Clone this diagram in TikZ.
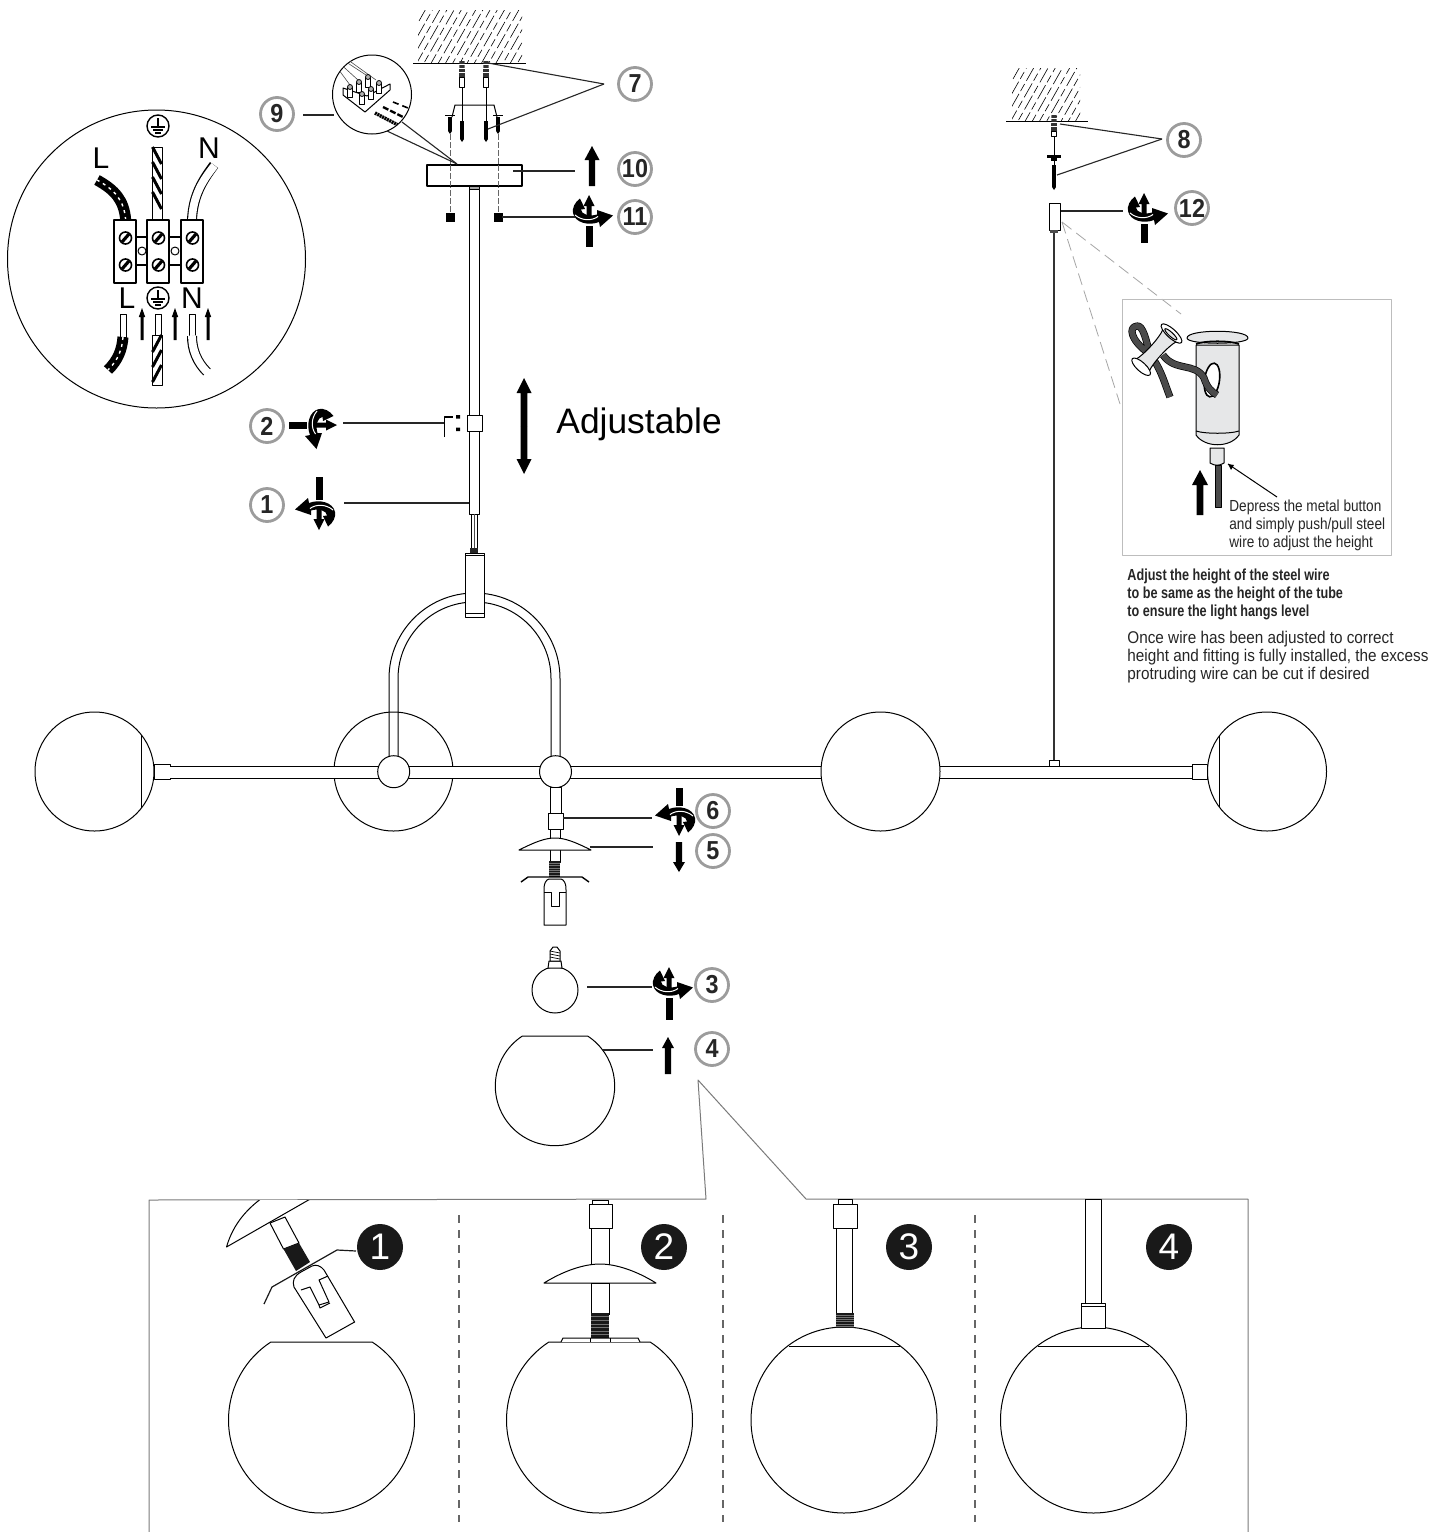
\documentclass[tikz,border=0pt]{standalone}
\usepackage{fontspec}
\setmainfont{Liberation Sans}
\newfontfamily\narrowf[FakeStretch=0.85]{Liberation Sans}
\newfontfamily\narrowg[FakeStretch=0.90]{Liberation Sans}
\newfontfamily\narrowb[FakeStretch=0.79]{Liberation Sans Bold}
\newfontfamily\numf[FakeStretch=0.9]{Liberation Sans Bold}
\usetikzlibrary{calc}
\definecolor{ringgrey}{HTML}{9C9C9C}
\definecolor{panelgrey}{HTML}{7A7A7A}
\definecolor{boxgrey}{HTML}{BDBDBD}
\definecolor{metal}{HTML}{E6E7E8}
\definecolor{wiredark}{HTML}{4A4A4A}
\tikzset{
  ln/.style={line width=0.5pt,black},
  leader/.style={line width=0.55pt,black!85},
  numring/.style={circle,draw=ringgrey,line width=1.4pt,fill=white,minimum size=16.5pt,inner sep=0pt,font=\numf\fontsize{13}{13}\selectfont,text=black!85},
  blackdot/.style={circle,fill=black!90,minimum size=23pt,inner sep=0pt,text=white,font=\fontsize{18.5}{18.5}\selectfont},
  bigl/.style={inner sep=0pt,font=\fontsize{15}{15}\selectfont},
  dashgrey/.style={line width=1pt,draw=black!60,dash pattern=on 4pt off 3.5pt},
  screwdash/.style={line width=0.4pt,draw=black!60,dash pattern=on 3pt off 1pt},
  pale/.style={line width=0.4pt,draw=black!35,dash pattern=on 6pt off 3pt},
  panel/.style={line width=0.5pt,draw=panelgrey},
  note/.style={anchor=north west,inner sep=0pt,align=left,text=black!85}
}
\newcommand\ldr[3]{\coordinate (#1a) at (#2);\coordinate (#1b) at (#3);\draw[leader] (#1a) -- (#1b);}
% vertical block arrow: x, tail y, tip y, half shaft, half head, head length
\newcommand\varrow[6]{\pgfmathsetmacro\sg{(#3>#2)?1:-1}%
  \fill[black] ({#1-#4},#2) -- ({#1-#4},{#3-\sg*#6}) -- ({#1-#5},{#3-\sg*#6}) -- (#1,#3) -- ({#1+#5},{#3-\sg*#6}) -- ({#1+#4},{#3-\sg*#6}) -- ({#1+#4},#2) -- cycle;}
% twist icon: x, y, rotation, shaft end
\newcommand\twist[4]{\begin{scope}[shift={(#1,#2)},rotate=#3]
  \fill[black] (-3.5,10.5) rectangle (3.5,#4);
  \fill[black] (-2.5,1) -- (-2.5,-9) -- (-5.5,-9) -- (0,-20) -- (5.5,-9) -- (2.5,-9) -- (2.5,1) -- cycle;
  \fill[black] (-9,-16.5) -- (-4,-6) -- (-8,-5.5) .. controls (-8,-1) and (0,2) .. (8,-0.5) -- (8,-5) -- (24,0.5) -- (11,12) -- (10,7) .. controls (0,11) and (-14,8) .. (-16,-2) .. controls (-17,-7) and (-14,-13) .. (-9,-16.5) -- cycle;
  \draw[white,line width=0.5pt] (-14,0) .. controls (-7,6) and (3,6) .. (9,1.5);
\end{scope}}
\newcommand\hatchfield[4]{\begin{scope}
  \clip (#1,#2) rectangle (#3,#4);
  \foreach \i in {0,...,22}{
    \pgfmathsetmacro\hx{#1-30+\i*7.2}
    \pgfmathsetmacro\ph{mod(\i*7,13)}
    \draw[line width=0.3pt,black,dash pattern=on 8pt off 1.6pt on 4pt off 2pt,dash phase=\ph pt] (\hx,#4) -- ++(34,-60);
  }
\end{scope}}
\newcommand\thread[4]{\fill[black!90] (#1,#2) rectangle (#3,#4);
  \foreach \yy in {1,...,6}{\pgfmathsetmacro\ty{#2+(#4-#2)*\yy/7}\draw[black!55,line width=0.2pt] (#1,\ty) -- (#3,\ty);}}
\newcommand\cutball[4]{\pgfmathsetmacro\ang{asin(#4/#3)}\pgfmathsetmacro\hh{#3*cos(\ang)}%
  \draw[ln,fill=white] ({#1+\hh},{#2-#4}) arc[start angle=-\ang,end angle=180+\ang,radius=#3] -- cycle;}
\newcommand\anchorplug[3]{\fill[black!80] ({#1-2.5},#2) -- ({#1+2.5},#2) -- ({#1+3},{#2+16}) -- ({#1-3},{#2+16}) -- cycle;
  \foreach \yy in {3,7,11}{\draw[white,line width=0.25pt] ({#1-3},{#2+\yy}) -- ({#1+3},{#2+\yy});}
  \draw[ln,fill=white] ({#1-2.5},{#2+16}) rectangle ({#1+2.5},#3);}
\newcommand\screwv[3]{\fill[black] ({#1-1.6},#2) rectangle ({#1+1.6},{#3-3});\fill[black] ({#1-2},{#3-3}) -- ({#1+2},{#3-3}) -- (#1,#3) -- cycle;}
\begin{document}
\begin{tikzpicture}[x=0.5pt,y=-0.5pt,line join=round]
\useasboundingbox (0,0) rectangle (1432,1532);
\fill[white] (0,0) rectangle (1432,1532);

%%% wiring circle
\draw[ln] (156.5,259) circle[radius=149];
% upper wires
\draw[black,line width=5.5pt] (125.7,220) .. controls (124,200) and (115,190) .. (97,180);
\draw[white,line width=0.7pt,dash pattern=on 1.5pt off 2pt] (125.7,220) .. controls (124,200) and (115,190) .. (97,180);
\draw[ln,fill=white] (152,147) rectangle (162,220);
\foreach \yy in {147,162,...,205}{\draw[black,line width=1.5pt] (152.5,\yy) -- (161.5,{\yy+17});}
\draw[black,line width=5pt] (192,220) .. controls (193,195) and (203,180) .. (214,165);
\draw[white,line width=3.9pt] (192,220) .. controls (193,195) and (203,180) .. (214.5,165.5);
% terminal block
\foreach \a/\b in {136/147,169/181}{\draw[ln,line width=0.7pt] (\a,237) -- (\b,237) (\a,265) -- (\b,265);}
\foreach \cx/\nm in {142/a,175/b}{\draw[ln,fill=white] (\cx,251) circle[radius=4];}
\foreach \xa in {114,147,181}{\draw[ln,line width=0.8pt,fill=white] (\xa,220) rectangle ({\xa+22},283);
  \foreach \yy in {238,265}{\draw[black,line width=0.8pt,fill=white] ({\xa+11.5},\yy) circle[radius=6];\draw[black,line width=1.6pt] ({\xa+8},{\yy+4}) -- ({\xa+15},{\yy-4});}}
% earth symbols
\foreach \cy in {126,298}{\draw[ln,line width=0.7pt] (158,\cy) circle[radius=11];
  \draw[black,line width=0.6pt] (158,{\cy-8}) -- (158,{\cy+1}) (151,{\cy+1}) -- (165,{\cy+1}) (153,{\cy+4}) -- (163,{\cy+4}) (155,{\cy+7}) -- (161,{\cy+7});}
\node[bigl] (wL1) at (101,158) {L};
\node[bigl] (wN1) at (209,148) {N};
\node[bigl] (wL2) at (127,298) {L};
\node[bigl] (wN2) at (192,298) {N};
% lower wires
\draw[ln,fill=white] (120,314) rectangle (126,337);
\draw[black,line width=5.5pt] (123,337) .. controls (122,350) and (118,360) .. (108,370);
\draw[white,line width=0.7pt,dash pattern=on 1.5pt off 2pt] (123,337) .. controls (122,350) and (118,360) .. (108,370);
\draw[ln,fill=white] (155,314) rectangle (161,335);
\draw[ln,fill=white] (152,335) rectangle (162,385);
\foreach \yy in {335,350,365}{\draw[black,line width=1.5pt] (161.5,\yy) -- (152.5,{\yy+17});}
\draw[ln,fill=white] (189,314) rectangle (195,336);
\draw[black,line width=5pt] (192,336) .. controls (192,350) and (197,362) .. (207,372);
\draw[white,line width=3.9pt] (192,335.5) .. controls (192,350) and (197,362) .. (207.5,372.5);
\varrow{142}{340}{308}{1.5}{3.2}{9}
\varrow{175}{340}{308}{1.5}{3.2}{9}
\varrow{208}{340}{308}{1.5}{3.2}{9}

%%% ceiling 1
\hatchfield{418}{10}{522}{63}
\draw[ln] (413,63) -- (526,63);
\anchorplug{462}{61}{87}
\anchorplug{486}{61}{87}
\draw[ln,line width=0.35pt] (462,87) -- (462,121) (486,87) -- (486,121);
\draw[ln] (452,117) -- (455,105) -- (494,105) -- (497,117);
\screwv{462}{121}{142}
\screwv{486}{121}{142}
\screwv{450}{117}{134}
\screwv{498}{117}{134}
\draw[black,line width=0.9pt] (445,115.5) -- (455,115.5) (493,115.5) -- (503,115.5);
\draw[screwdash] (450,134) -- (450,213) (498,134) -- (498,213);
\fill[black] (445.5,212.5) rectangle (454.5,221.5);
\fill[black] (493.5,212.5) rectangle (502.5,221.5);
% canopy and tube
\draw[ln,line width=0.55pt,fill=white] (427,165) rectangle (522,186);
\draw[screwdash] (450,165) -- (450,186) (498,165) -- (498,186);
\draw[ln,fill=black!35] (469,186) rectangle (479,189);
\draw[ln,fill=white] (469.5,189) rectangle (479.5,514);
\draw[ln,fill=white] (467,415) rectangle (482,431);
\draw[black,line width=0.8pt] (444.5,437) -- (444.5,417) -- (453,417);
\fill[black] (456,415) rectangle (460,418.5) (456,427.5) rectangle (460,431);
\draw[ln,fill=white] (471,514) rectangle (477,548);
\draw[black!70,line width=0.5pt] (474,514) -- (474,548);
\fill[black!85] (470,548) rectangle (478,553);

%%% circuit detail
\draw[ln,fill=white] (372,94.5) circle[radius=39.5];
\begin{scope}
\clip (372,94.5) circle[radius=39.5];
\draw[black!70,line width=0.3pt] (333,62) -- (350,85) (336,60) -- (358,80) (340,58) -- (366,75) (344,57) -- (376,80);
\draw[ln,fill=white] (343,88) -- (343,95) -- (365,112) -- (390,90) -- (390,84) -- (367,96) -- cycle;
\foreach \px/\py in {368/77,379/83,359/82,350/87,371/89,362/94}{
  \draw[ln,line width=0.4pt,fill=white] ({\px-2.5},\py) rectangle ({\px+2.5},{\py+10});
  \draw[ln,line width=0.4pt,fill=black!30] (\px,\py) circle[radius=2.5];}
\draw[black,line width=1.7pt,dash pattern=on 1pt off 0.35pt] (375,113) -- (398,125);
\draw[black,line width=1.2pt,dash pattern=on 3pt off 1pt] (383,107) -- (403,117);
\draw[black,line width=0.8pt,dash pattern=on 3pt off 2pt] (393,102) -- (408,108);
\end{scope}
\ldr{t1}{402,122}{457,164}
\ldr{t2}{387,131}{457,164}

%%% fixture: balls
\draw[ln] (393.5,771.5) circle[radius=59.5];
\draw[ln,fill=white] (94.5,771.5) circle[radius=59.5];
\draw[ln] (141,735) -- (141,808);
\draw[ln,fill=white] (154,764) rectangle (170,779);
\draw[ln,fill=white] (1267,771.5) circle[radius=59.5];
\draw[ln] (1219,736) -- (1219,807);
\draw[ln,fill=white] (1192,764) rectangle (1207.5,779);
% bar
\fill[white] (170,766) rectangle (1192,778);
\draw[ln] (170,766) -- (1192,766) (170,778) -- (1192,778);
\draw[ln,fill=white] (880.5,771.5) circle[radius=59.5];
% U arm
\draw[ln] (389,760) -- (389,678.5) arc[start angle=180,end angle=360,radius=85.5] -- (560,760);
\draw[ln] (398,760) -- (398,678.5) arc[start angle=180,end angle=360,radius=76.5] -- (551,760);
\draw[ln,fill=white] (393.7,771.7) circle[radius=16];
\draw[ln,fill=white] (555.5,771.7) circle[radius=16];
\draw[ln,fill=white] (465,553) rectangle (484,617);
\draw[ln] (465,555.5) -- (484,555.5) (465,613) -- (484,613);
% wire fitting
\draw[ln,fill=white] (1049,760) rectangle (1059,766);
\draw[black!80,line width=0.6pt] (1054,232) -- (1054,760);

%%% lower assembly
\draw[ln,fill=white] (550,787) rectangle (561,813);
\draw[ln,fill=white] (548,813) rectangle (563,829);
\draw[ln,fill=white] (550.5,829) rectangle (560,862);
\draw[ln,fill=white] (519,850) .. controls (535,842) and (545,838) .. (555,838) .. controls (565,838) and (575,842) .. (591,850) -- cycle;
\thread{549}{861}{560}{877}
\draw[ln,fill=white] (549,879) -- (547,880) .. controls (544,883) and (544,887) .. (544,890) -- (544,925) -- (566,925) -- (566,890) .. controls (566,887) and (566,883) .. (563,880) -- (561,879) -- cycle;
\draw[ln] (544,892) -- (551,892) -- (551,906) -- (559,906) -- (559,892) -- (566,892);
\draw[black,line width=0.7pt] (521,882) -- (528,877) -- (582,877) -- (589,882);
% bulb
\draw[ln,fill=white] (555,990) circle[radius=23];
\draw[ln,fill=white] (548,968) -- (549,961) -- (561,961) -- (562,968) -- cycle;
\draw[ln,fill=white] (550,961) -- (550,951) -- (553,947) -- (557,947) -- (560,951) -- (560,961) -- cycle;
\foreach \yy in {951,954,957}{\draw[ln,line width=0.35pt] (550,\yy) -- (560,{\yy+2});}
% glass
\cutball{555}{1086}{59.7}{50}

%%% arrows and twists
\varrow{592}{186}{146}{3.2}{7.5}{14}
\varrow{524}{426}{378}{3.3}{7.5}{15}
\varrow{524}{426}{474}{3.3}{7.5}{15}
\varrow{679}{842}{872}{3.2}{6}{10}
\varrow{668}{1074}{1037}{3.2}{6}{11}
\twist{589}{215}{0}{32}
\twist{1144}{213}{0}{30}
\twist{669}{987}{0}{33}
\twist{679}{816}{180}{28}
\twist{319}{510}{180}{33}
\twist{317}{425}{-90}{28}

%%% numbered circles and leaders
\node[numring] (n7) at (635,84) {7};
\node[numring] (n9) at (277,114) {9};
\node[numring] (n10) at (635,169) {10};
\node[numring] (n11) at (635,217) {11};
\node[numring] (n12) at (1192,208) {12};
\node[numring] (n8) at (1184,140) {8};
\node[numring] (n2) at (267,426) {2};
\node[numring] (n1) at (267,505) {1};
\node[numring] (n6) at (713,811) {6};
\node[numring] (n5) at (713,851) {5};
\node[numring] (n3) at (712,985) {3};
\node[numring] (n4) at (712,1049) {4};
\ldr{l7a}{488,63}{604,84}
\ldr{l7b}{488,129}{604,84}
\ldr{l9}{303,115}{334,115}
\ldr{l10}{513,171}{575,171}
\ldr{l11}{502,217}{575,217}
\ldr{l2}{343,423}{444,423}
\ldr{l1}{344,503}{469,503}
\ldr{l6}{563,818}{652,818}
\ldr{l5}{590,847}{653,847}
\ldr{l3}{587,987}{652,987}
\ldr{l4}{603,1050}{653,1050}
\ldr{l8a}{1060,124}{1162,139}
\ldr{l8b}{1057,175}{1162,139}
\ldr{l12}{1060,211}{1123,211}
\node[inner sep=0pt,anchor=west,font=\fontsize{17.7}{18}\selectfont] (adj) at (556,424) {Adjustable};

%%% ceiling 2 and hanger
\hatchfield{1012}{68}{1080}{121}
\draw[ln] (1006,121) -- (1088,121);
\anchorplug{1054}{115}{136}
\draw[ln,line width=0.35pt] (1054,136) -- (1054,165);
\fill[black] (1047,155) rectangle (1061,158);
\fill[black] (1051,158) rectangle (1057,161);
\screwv{1054}{165}{190}
\draw[ln,fill=white] (1049,203) rectangle (1060,230);
\fill[black!70] (1050,230) rectangle (1058,233);
\coordinate (h0) at (1062,222);
\draw[pale] (h0) -- (1181,314);
\draw[pale] (h0) -- (1120,404);

%%% detail panel
\node[draw=boxgrey,line width=0.5pt,minimum width=134.5pt,minimum height=128pt,anchor=north west,inner sep=0pt] (dbox) at (1122,299) {};
% wire behind spool
\newcommand\darkwire[1]{\draw[black,line width=3.6pt,line cap=butt] #1;\draw[wiredark,line width=2.9pt,line cap=butt] #1;}
\darkwire{(1150,354) .. controls (1146,340) and (1143,325) .. (1137,326) .. controls (1128,327) and (1131,340) .. (1147,352) .. controls (1160,364) and (1165,385) .. (1170,397)}
% tube
\draw[ln,fill=metal] (1196,345) -- (1196,435) .. controls (1205,448) and (1230,448) .. (1239,435) -- (1239,345) -- cycle;
\draw[ln] (1196,431) .. controls (1205,434) and (1230,434) .. (1239,431);
\draw[ln,fill=metal] (1187,338) .. controls (1187,329) and (1248,329) .. (1248,338) .. controls (1248,345) and (1187,345) .. (1187,338) -- cycle;
\draw[ln,line width=0.9pt] (1196,344) .. controls (1205,340.5) and (1230,340.5) .. (1239,344);
\draw[black,line width=0.8pt,fill=white,rotate around={-8:(1212,380)}] (1212,380) ellipse[x radius=7.5,y radius=17];
\draw[ln,fill=metal] (1210,448) -- (1210,463) .. controls (1215,466) and (1219,466) .. (1224,463) -- (1224,448) -- cycle;
\draw[ln,fill=wiredark] (1215,465) rectangle (1221,507);
% wire through hole
\darkwire{(1163,355) .. controls (1175,372) and (1195,362) .. (1204,378) .. controls (1207,388) and (1212,392) .. (1217,395)}
% spool
\begin{scope}[shift={(1156,350.5)},rotate=47.6]
  \draw[ln,fill=metal] (-20,-9) .. controls (-12,-6) and (12,-6) .. (20,-9) -- (20,9) .. controls (12,6) and (-12,6) .. (-20,9) -- cycle;
  \draw[ln,fill=white] (-22,0) ellipse[x radius=4.5,y radius=12];
  \draw[ln,fill=white] (23,0) ellipse[x radius=4.5,y radius=13.5];
  \draw[ln,fill=metal] (22,0) ellipse[x radius=2,y radius=8];
\end{scope}
\varrow{1200}{515}{470}{3.3}{8}{15}
\coordinate (p1) at (1277,497);
\coordinate (p2) at (1228,464);
\draw[ln] (p1) -- (p2);
\fill[black] (p2) -- (1234,465) -- (1231,470) -- cycle;
\node[note,font=\narrowf\fontsize{8}{9}\selectfont] (depress) at (1229,499) {Depress the metal button\\and simply push/pull steel\\wire to adjust the height};
\node[note,font=\narrowb\fontsize{8}{9}\selectfont] (adjnote) at (1127,568) {Adjust the height of the steel wire\\to be same as the height of the tube\\to ensure the light hangs level};
\node[note,font=\narrowg\fontsize{8.5}{9}\selectfont] (oncenote) at (1127,631) {Once wire has been adjusted to correct\\height and fitting is fully installed, the excess\\protruding wire can be cut if desired};

%%% steps frame
\coordinate (fa) at (149,1532);\coordinate (fb) at (149,1200);\coordinate (fc) at (706,1199);\coordinate (fd) at (698,1080);\coordinate (fe) at (806,1199);\coordinate (ff) at (1248,1199);\coordinate (fg) at (1248,1532);
\draw[panel] (fa) -- (fb) -- (fc) -- (fd) -- (fe) -- (ff) -- (fg);
\draw[dashgrey] (459,1215) -- (459,1522);
\draw[dashgrey] (723,1215) -- (723,1522);
\draw[dashgrey] (975,1215) -- (975,1522);

% step 1
\begin{scope}
\clip (160,1200) rectangle (440,1345);
\draw[ln,fill=white] (226.5,1247) .. controls (232,1228) and (243,1212) .. (262,1198) -- (312,1198) -- cycle;
\draw[ln,fill=white] (270,1223) -- (283.5,1249) -- (299,1243) -- (285,1217) -- cycle;
\fill[black!90] (283.5,1249) -- (296,1271) -- (310,1262) -- (299,1243) -- cycle;
\draw[black!90,line width=0.6pt] (264,1304) -- (272,1287) -- (337,1250) -- (356,1251);
\draw[ln,fill=white] (301,1272) .. controls (294,1276) and (292,1281) .. (294,1287) -- (326,1338) -- (354.6,1322) -- (324,1270) .. controls (321,1266) and (316,1264) .. (312,1266) -- cycle;
\draw[ln] (301,1290) -- (310,1287) -- (319,1305) -- (329,1302) -- (319,1280) -- (328,1276);
\draw[ln] (319,1305) -- (320,1308) -- (330,1303);
\end{scope}
\cutball{321.5}{1420}{93}{78}
\node[blackdot] (s1) at (380,1247) {1};
% step 2
\cutball{599.5}{1420}{93}{78}
\draw[ln,fill=white] (592.5,1200) rectangle (608,1204);
\draw[ln,fill=white] (589,1204) rectangle (612,1228);
\draw[ln,fill=white] (591.5,1228) rectangle (609,1314);
\draw[ln,fill=white] (544,1283) .. controls (565,1270) and (585,1264) .. (600,1264) .. controls (615,1264) and (635,1270) .. (656,1283) -- cycle;
\draw[ln,fill=white] (591.5,1283) rectangle (609,1314);
\thread{591}{1313}{609}{1338}
\draw[ln,fill=white] (561,1342) -- (563,1338) -- (638,1338) -- (640,1342);
\draw[ln] (590,1338) -- (590,1342) (610,1338) -- (610,1342);
\node[blackdot] (s2) at (664,1247) {2};
% step 3
\draw[ln,fill=white] (844,1420) circle[radius=93];
\draw[ln] (789,1346) -- (900,1346);
\draw[ln,fill=white] (838,1199) rectangle (852,1204);
\draw[ln,fill=white] (833,1204) rectangle (857,1228);
\draw[ln,fill=white] (836.5,1228) rectangle (852.5,1314);
\thread{835.5}{1313}{854}{1328}
\node[blackdot] (s3) at (909,1247) {3};
% step 4
\draw[ln,fill=white] (1093.5,1420) circle[radius=93];
\draw[ln] (1038,1346) -- (1149,1346);
\draw[ln,fill=white] (1085,1199) rectangle (1101.5,1303);
\draw[ln,fill=white] (1081.5,1303) rectangle (1105.5,1328);
\draw[ln] (1081.5,1306) -- (1105.5,1306);
\node[blackdot] (s4) at (1169,1247) {4};
\end{tikzpicture}
\end{document}
